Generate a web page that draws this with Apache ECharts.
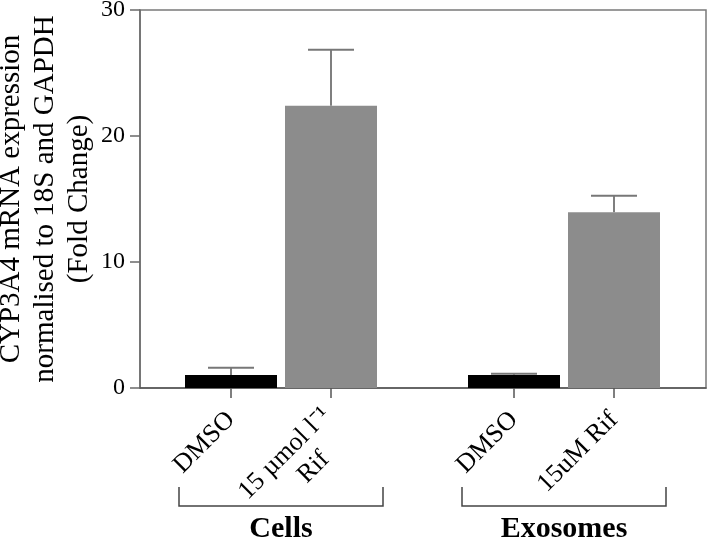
<!DOCTYPE html>
<html>
<head>
<meta charset="utf-8">
<script src="https://cdn.jsdelivr.net/npm/echarts@6/dist/echarts.min.js"></script>
<style>
  html, body { margin: 0; padding: 0; background: #fff; }
  #chart { width: 709px; height: 541px; }
</style>
</head>
<body>
<div id="chart"></div>
<script>
// ---- data ----
const categories = ['DMSO', '15 µmol l⁻¹\nRif', 'DMSO', '15uM Rif'];
const groupOf = [0, 0, 1, 1];
const groupNames = ['Cells', 'Exosomes'];
const means = [1.03, 22.4, 1.03, 13.94];
const errorsUp = [0.58, 4.45, 0.10, 1.32];
const yTicks = [0, 10, 20, 30];
const yTitle = 'CYP3A4 mRNA expression\nnormalised to 18S and GAPDH\n(Fold Change)';

// ---- layout (axis units) ----
const groupStart = [0.91, 3.74];
const xMax = 5.66;
const barHalf = 0.46;
const capHalf = 0.23;
const FONT = '"Liberation Serif", "Times New Roman", serif';

const withinIdx = groupOf.map((g, i) => groupOf.slice(0, i).filter(x => x === g).length);
const positions = categories.map((c, i) => groupStart[groupOf[i]] + withinIdx[i]);
const barColors = categories.map((c, i) => withinIdx[i] === 0 ? '#000000' : '#8c8c8c');

const seriesData = categories.map((c, i) => [positions[i], means[i], errorsUp[i], i]);

const chart = echarts.init(document.getElementById('chart'), null, { renderer: 'canvas' });

function labelFor(v) {
  const i = positions.findIndex(p => Math.abs(p - v) < 1e-6);
  if (i < 0) return '';
  const parts = categories[i].split('\n');
  if (parts.length === 1) return '{s|' + parts[0] + '}';
  return '{e| }\n{a|' + parts[0] + '}\n{b|' + parts[1] + '}';
}

const option = {
  animation: false,
  backgroundColor: '#ffffff',
  grid: {
    left: 140, right: 3, top: 10, bottom: 153,
    containLabel: false, outerBoundsMode: 'none',
    show: true, borderColor: '#7a7a7a', borderWidth: 1.5, backgroundColor: 'transparent'
  },
  xAxis: {
    type: 'value', min: 0, max: xMax,
    axisLine: { show: true, onZero: false, lineStyle: { color: '#555', width: 1.5 } },
    axisTick: { show: true, customValues: positions, length: 10, lineStyle: { color: '#555', width: 1.5 } },
    axisLabel: {
      customValues: positions, rotate: 45, margin: 28,
      formatter: labelFor,
      color: '#000',
      rich: {
        s: { fontFamily: FONT, fontSize: 26, color: '#000', lineHeight: 26 },
        e: { fontFamily: FONT, fontSize: 6, color: '#000', lineHeight: 18 },
        a: { fontFamily: FONT, fontSize: 26, color: '#000', lineHeight: 30, align: 'right' },
        b: { fontFamily: FONT, fontSize: 26, color: '#000', lineHeight: 30, align: 'right', padding: [0, 32, 0, 0] }
      }
    },
    splitLine: { show: false }
  },
  yAxis: {
    type: 'value', min: yTicks[0], max: yTicks[yTicks.length - 1], interval: 10,
    name: yTitle, nameLocation: 'middle', nameRotate: 90, nameGap: 44, nameMoveOverlap: false,
    nameTextStyle: { fontFamily: FONT, fontSize: 29, color: '#000', lineHeight: 34, align: 'center' },
    axisLine: { show: true, lineStyle: { color: '#6a6a6a', width: 1.5 } },
    axisTick: { show: true, length: 10, lineStyle: { color: '#6a6a6a', width: 1.5 } },
    axisLabel: { fontFamily: FONT, fontSize: 24, color: '#000', margin: 15 },
    splitLine: { show: false }
  },
  series: [{
    type: 'custom',
    data: seriesData,
    clip: false,
    renderItem: function (params, api) {
      const x = api.value(0), m = api.value(1), e = api.value(2), idx = api.value(3);
      const tl = api.coord([x - barHalf, m]);
      const br = api.coord([x + barHalf, 0]);
      const top = api.coord([x, m + e]);
      const base = api.coord([x, m]);
      const cl = api.coord([x - capHalf, m + e]);
      const cr = api.coord([x + capHalf, m + e]);
      return {
        type: 'group',
        children: [
          { type: 'line', shape: { x1: base[0], y1: base[1], x2: top[0], y2: top[1] },
            style: { stroke: '#555', lineWidth: 1.5 } },
          { type: 'line', shape: { x1: cl[0], y1: cl[1], x2: cr[0], y2: cr[1] },
            style: { stroke: '#777', lineWidth: 2 } },
          { type: 'rect', shape: { x: tl[0], y: tl[1], width: br[0] - tl[0], height: br[1] - tl[1] },
            style: { fill: barColors[idx] } }
        ]
      };
    }
  }]
};
chart.setOption(option);

// brackets and group labels beneath the axis
const graphics = [];
groupNames.forEach((name, g) => {
  const ps = positions.filter((p, i) => groupOf[i] === g);
  const x1 = chart.convertToPixel({ xAxisIndex: 0 }, Math.min(...ps) - barHalf) - 6;
  const x2 = chart.convertToPixel({ xAxisIndex: 0 }, Math.max(...ps) + barHalf) + 6;
  const yTop = 487, yBot = 506;
  graphics.push({
    type: 'polyline',
    shape: { points: [[x1, yTop], [x1, yBot], [x2, yBot], [x2, yTop]] },
    style: { stroke: '#444', lineWidth: 1.5, fill: null }
  });
  graphics.push({
    type: 'text',
    x: (x1 + x2) / 2, y: 529,
    style: { text: name, fontFamily: FONT, fontSize: 30, fontWeight: 'bold', fill: '#000',
             align: 'center', verticalAlign: 'middle' }
  });
});
chart.setOption({ graphic: graphics });
</script>
</body>
</html>
